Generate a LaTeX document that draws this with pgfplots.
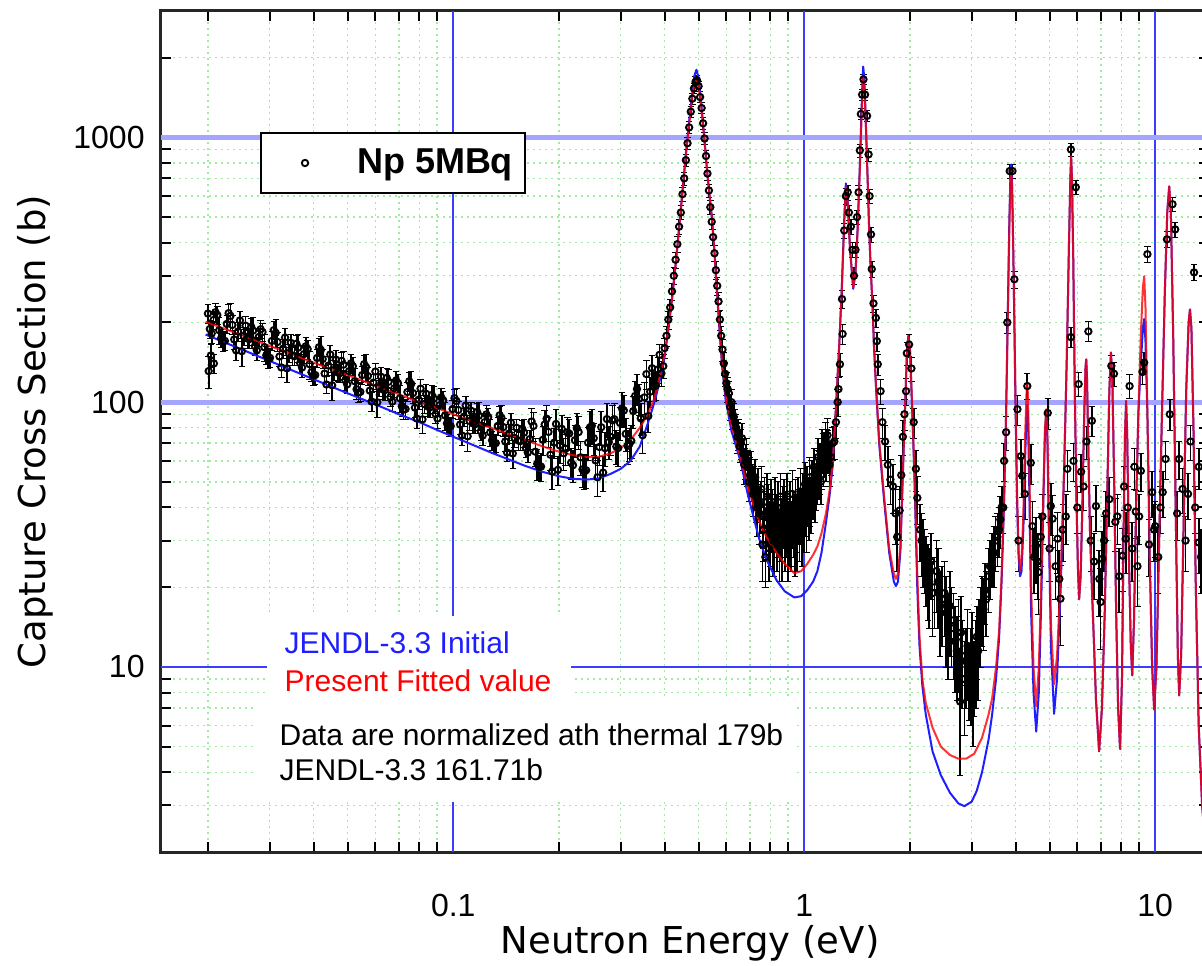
\documentclass[border=0pt]{standalone}
\usepackage{fontspec}
\setmainfont{Liberation Sans}
\newfontfamily\dejavu{DejaVu Sans}
\usepackage{pgfplots}
\pgfplotsset{compat=1.18}
\usepackage{pgfplotstable}
\definecolor{gridgreen}{RGB}{160,235,160}
\definecolor{gridblue}{RGB}{60,60,255}
\definecolor{gridlblue}{RGB}{165,165,255}
\definecolor{curveblue}{RGB}{30,30,255}
\definecolor{curvered}{RGB}{255,0,0}
\newcommand\tickfont{\fontsize{16}{16}\selectfont}

\pgfplotstableread{
x y e
0.02000 216 17
0.02050 181.7 15
0.02101 218.5 17
0.02154 186.9 22
0.02208 169.5 14
0.02263 197.4 16
0.02319 211.7 25
0.02377 172.4 14
0.02437 184.8 15
0.02498 155.7 19
0.02560 194.5 16
0.02624 172.9 14
0.02690 186.3 22
0.02757 156.8 13
0.02826 188.5 15
0.02897 161.2 19
0.02969 146.1 12
0.03043 170.3 14
0.03120 182.6 22
0.03198 148.7 12
0.03277 159.3 13
0.03359 134.2 16
0.03443 167.6 13
0.03529 149.1 12
0.03618 160.6 19
0.03708 135.1 11
0.03801 162.5 13
0.03896 139.0 17
0.03993 126.0 10
0.04093 146.8 12
0.04195 157.4 19
0.04300 128.2 10
0.04408 137.4 11
0.04518 115.8 14
0.04631 144.7 12
0.04747 128.5 10
0.04865 138.5 17
0.04987 116.6 9
0.05112 140.1 11
0.05239 119.9 14
0.05370 108.7 9
0.05505 126.6 10
0.05642 135.8 16
0.05783 110.5 9
0.05928 118.5 9
0.06076 99.9 12
0.06228 124.7 10
0.06384 110.9 9
0.06543 119.4 14
0.06707 100.5 8
0.06875 120.8 10
0.07046 103.4 12
0.07222 93.7 8
0.07403 109.2 9
0.07588 117.1 14
0.07778 95.3 8
0.07972 102.2 8
0.08172 86.1 10
0.08376 107.5 9
0.08586 95.5 8
0.08800 103.0 12
0.09020 86.7 7
0.09246 104.2 8
0.09477 89.1 11
0.09714 80.8 6.5
0.09957 94.2 7.5
0.1021 101.0 12
0.1046 82.3 6.6
0.1072 88.1 7
0.1099 74.3 9
0.1126 92.7 7.4
0.1155 82.5 6.6
0.1183 88.9 11
0.1213 74.8 6
0.1243 89.9 7
0.1274 76.9 9
0.1306 69.7 5.6
0.1339 81.3 6.5
0.1372 87.1 10
0.1407 71.0 5.7
0.1442 76.1 6
0.1478 64.0 7.7
0.1515 80.0 6.4
0.1553 71.2 5.7
0.1591 76.7 9
0.1631 64.5 5.2
0.1672 84.5 10
0.1714 65.0 8
0.1757 56.8 6
0.1800 72.1 9
0.1845 86.6 11
0.1892 63.3 8
0.1939 70.3 9
0.1987 55.5 7
0.2037 79.3 10
0.2088 66.7 9
0.2140 76.1 10
0.2194 57.8 8
0.2248 79.8 11
0.2305 61.9 9
0.2362 54.7 8
0.2421 70.3 10
0.2482 81.5 12
0.2544 60.2 9
0.2608 67.7 10
0.2673 54.2 8
0.2740 86.3 13
0.2808 73.9 11
0.2878 86.2 13
0.2950 67.1 10
0.3024 94.7 14
0.3100 75.9 11
0.3177 69.6 10
0.3257 92.5 13
0.3338 112.1 15
0.3422 86.8 12
0.3507 104.2 14
0.3595 88.6 12
0.3685 134.3 16
0.3777 115.5 14
0.3871 150.9 15
0.3968 136.8 14
0.0201 131 18
0.0204 150 15
0.0208 140 12
0.02025 188.9 15
0.02127 213.3 17
0.02235 170.3 14
0.02348 195.7 16
0.02467 203.5 16
0.02592 173.9 14
0.02723 162.8 13
0.02861 184.0 15
0.03006 146.9 12
0.03159 168.8 14
0.03318 175.4 14
0.03486 150.0 12
0.03663 140.4 11
0.03848 158.6 13
0.04043 126.6 10
0.04247 145.5 12
0.04463 151.3 12
0.04688 129.4 10
0.04925 121.0 10
0.05175 136.7 11
0.05437 109.3 9
0.05712 125.5 10
0.06001 130.5 10
0.06305 111.6 9
0.06624 104.4 8
0.06960 117.9 9
0.07312 94.2 8
0.07682 108.2 9
0.08071 112.5 9
0.08480 96.1 8
0.08909 90.1 7
0.09361 101.6 8
0.09834 81.2 6.5
0.1034 93.4 7.5
0.1085 97.1 8
0.1140 83.0 6.6
0.1198 77.7 6.2
0.1258 87.8 7
0.1322 70.0 5.6
0.1389 80.5 6.4
0.1460 83.7 6.7
0.1534 71.6 5.7
0.1611 67.1 5.4
0.1693 81.3 10
0.1779 57.1 7
0.1868 77.2 10
0.1963 82.7 11
0.2062 64.1 9
0.2167 59.1 8
0.2276 77.1 11
0.2391 55.3 8
0.2513 73.1 10
0.2640 80.4 12
0.2774 70.7 10
0.2914 68.0 10
0.3062 93.0 13
0.3216 71.4 10
0.3379 103.0 14
0.3551 127.6 16
0.3731 114.8 14
0.3919 128.5 14
0.02075 204.2 16
0.02181 174.3 14
0.02291 216.8 17
0.02407 156.8 13
0.02529 177.9 14
0.02657 192.6 15
0.02791 176.2 14
0.02933 150.3 12
0.03081 187.0 15
0.03238 135.2 11
0.03401 153.4 12
0.03573 166.2 13
0.03754 151.8 12
0.03944 129.6 10
0.04144 161.2 13
0.04353 116.6 9
0.04574 132.3 11
0.04806 143.2 11
0.05049 130.9 10
0.05304 111.8 9
0.05573 139.1 11
0.05855 100.5 8
0.06151 114.1 9
0.06463 123.5 10
0.06790 112.8 9
0.07133 96.4 8
0.07495 119.9 10
0.07874 86.7 7
0.08273 98.4 8
0.08692 106.4 9
0.09132 97.3 8
0.09594 83.1 6.6
0.1008 103.5 8
0.1059 74.8 6
0.1113 84.9 7
0.1169 91.9 7
0.1228 84.0 7
0.1290 71.7 6
0.1356 89.2 7
0.1424 64.5 5
0.1496 73.2 6
0.1572 79.4 6
0.1651 72.5 6
0.1735 58.5 8
0.1822 82.3 11
0.1915 54.7 8
0.2012 68.6 10
0.2114 76.9 11
0.2221 71.8 10
0.2334 55.7 8
0.2451 80.2 12
0.2576 52.0 8
0.2706 67.0 10
0.2843 85.3 12
0.2987 83.4 12
0.3138 68.4 10
0.3297 105.5 14
0.3464 75.0 11
0.3640 109.5 14
0.3824 132.8 15
}\dataA

\pgfplotstableread{
x y e
0.400 160 14
0.405 178 15
0.410 205 16
0.415 228 17
0.420 262 20
0.425 300 22
0.430 345 24
0.435 395 26
0.440 460 30
0.445 520 32
0.450 610 36
0.455 700 40
0.460 820 45
0.465 950 50
0.470 1090 55
0.475 1250 60
0.480 1400 65
0.485 1530 70
0.490 1620 72
0.495 1640 72
0.500 1560 70
0.505 1420 65
0.510 1290 60
0.515 1130 55
0.520 990 50
0.525 850 45
0.530 730 40
0.535 630 36
0.540 545 32
0.545 480 30
0.550 420 28
0.555 365 26
0.560 315 24
0.565 275 22
0.570 240 20
0.575 205 18
0.580 178 16
0.585 158 15
0.590 140 14
0.595 128 13
0.600 118 12
0.610 108 12
0.620 100 12
0.630 88 11
0.640 80 10
0.650 76 10
0.660 70 9
0.670 64 9
0.680 60 9
0.690 57 9
0.700 53 9
0.710 50 8
0.720 48 9
0.730 44 9
0.740 46 10
0.750 41 9
0.760 29 8
0.765 37 9
0.770 42 10
0.775 26 6
0.780 35 9
0.790 39 10
0.795 28 7
0.800 33 9
0.810 37 10
0.820 31 9
0.830 36 9
0.840 40 10
0.850 30 9
0.860 34 9
0.870 38 10
0.880 31 8
0.890 35 9
0.900 29 8
0.910 40 10
0.920 33 9
0.930 37 9
0.940 30 8
0.950 36 9
0.960 42 10
0.970 34 9
0.980 38 9
0.990 44 10
1.000 36 9
1.010 40 9
1.020 47 10
1.030 39 9
1.040 43 9
1.050 50 10
1.060 45 9
1.070 52 10
1.080 48 9
1.090 56 10
1.100 52 9
1.110 60 10
1.120 57 10
1.130 65 11
1.140 62 10
1.150 72 12
1.160 68 11
1.170 66 12
1.180 58 10
1.190 62 9
0.605 112 12
0.615 96 11
0.625 90 11
0.635 84 10
0.645 74 10
0.655 68 9
0.665 73 10
0.675 58 9
0.685 64 9
0.695 50 8
0.705 56 9
0.715 45 8
0.725 52 9
0.735 40 9
0.745 38 9
0.755 47 10
0.765 33 8
0.785 44 10
0.805 41 10
0.815 30 8
0.825 42 10
0.835 32 9
0.845 35 9
0.855 44 10
0.865 29 8
0.875 41 10
0.885 37 9
0.895 44 10
0.905 33 9
0.915 31 8
0.925 45 10
0.935 35 9
0.945 41 10
0.955 32 9
0.965 38 9
0.975 46 10
0.985 33 9
0.995 40 9
1.005 49 10
1.015 36 9
1.025 43 9
1.035 52 10
1.045 41 9
1.055 47 9
1.065 57 10
1.075 44 9
1.085 51 10
1.095 62 11
1.105 55 10
1.115 50 9
1.125 68 11
1.135 58 10
1.145 66 11
1.155 60 10
1.165 75 12
1.205 70 10
1.218 71 10
1.231 84 11
1.245 100 12
1.252 112 12
1.264 139 14
1.281 245 20
1.286 181 16
1.300 445 30
1.314 600 40
1.330 620 40
1.340 520 35
1.358 460 30
1.372 376 25
1.386 300 22
1.400 376 25
1.414 500 30
1.428 620 38
1.440 893 50
1.450 1225 60
1.462 1450 70
1.475 1655 75
1.490 1450 70
1.510 1205 60
1.525 862 50
1.535 600 38
1.550 430 28
1.557 318 22
1.575 236 18
1.600 208 16
1.610 170 14
1.620 139 13
1.650 110 12
1.670 84 11
1.700 71 11
1.730 58 10
1.760 51 10
1.790 48 10
1.820 38 9
1.840 31 8
1.870 39 9
1.890 53 10
1.910 74 11
1.930 90 12
1.950 110 13
1.960 153 15
1.990 165 16
2.020 134 14
2.050 84 11
2.080 56 10
2.100 43.5 9
2.140 33 8
2.160 30 8
2.180 28 8
2.200 26 7
2.220 24 7
2.250 22 7
2.270 21 7
2.300 25 7
2.320 19 6
2.350 20 6
2.380 23 7
2.410 21 7
2.440 17 6
2.470 18 6
2.510 19 6
2.540 16 6
2.570 14 5
2.600 17 6
2.630 15 5
2.660 14 5
2.690 12.5 4.5
2.720 11.5 4
2.750 13 5
2.780 7.4 3.5
2.800 13.5 5
2.820 11 4
2.860 9 3.5
2.890 10.5 3.5
2.920 12 4.5
2.950 9.3 3
2.980 10 4
3.000 12 4
3.020 8.5 3.5
3.050 9.5 3
3.080 11 4
3.100 13 4
3.130 11.5 4
3.150 14 4
3.180 15 5
3.210 17 5
3.240 16.5 5
3.270 19.5 5
3.300 18 5
3.350 22 6
3.380 24 6
3.430 26 6
3.470 27 7
3.510 30 7
3.550 31 7
3.590 33 7
3.620 36 8
3.650 40 8
3.690 40 8
3.710 60 10
3.760 77 11
3.790 200 18
3.850 746 45
3.920 746 45
3.970 291 22
4.050 94 12
4.080 30 7
4.140 62.5 10
4.180 52.7 9
4.250 45 9
4.320 115 13
4.420 59 10
4.470 34 8
4.520 26 7
4.570 28.7 8
4.620 25 7
4.650 22.8 7
4.720 31 7
4.770 37 8
4.940 91 12
5.000 28 7
5.040 40.5 9
5.100 36.3 8
5.200 24 6
5.270 30.5 8
5.330 21.5 6
5.370 18.1 6
5.450 33 8
5.560 37 8
5.620 56 10
5.750 900 50
5.750 176 15
5.850 60 10
5.940 648 40
6.000 40 8
6.050 117 12
6.150 54.6 9
6.250 48 9
6.370 71 10
6.450 185 16
6.550 30 7
6.600 85 11
6.700 25 7
6.780 40.5 8
6.930 21.5 6
6.990 17.6 6
7.060 25.6 7
7.150 30 7
7.250 38 8
7.400 43 9
7.500 137 13
7.630 128 13
7.700 35.3 8
7.800 37 8
7.900 22 6
8.070 26.3 7
8.150 48 9
8.240 30.5 8
8.350 40 8
8.450 115 12
8.600 28 7
8.720 57 10
8.800 38.6 8
8.900 24 7
9.000 37 8
9.100 55 9
9.200 130 13
9.300 141 13
9.500 362 25
9.600 29 7
9.800 45.7 9
9.930 33 8
10.00 34 8
10.20 26 7
10.35 40 8
10.50 45.7 9
10.70 61 10
10.80 412 28
11.00 90 12
11.20 559 35
11.40 449 30
11.55 38 8
11.70 61 10
11.96 47 9
12.20 30 7
12.40 45 9
12.60 71 11
12.90 309 22
13.00 40 8
13.30 57 10
13.30 29.5 7
13.50 26 7
}\dataB

\begin{document}
\begin{tikzpicture}
\begin{axis}[
  scale only axis, width=524pt, height=420.5pt,
  xmode=log, ymode=log,
  xmin=0.0147, xmax=14.23, ymin=2, ymax=3000,
  axis line style={line width=1.5pt, black!85},
  tick align=inside,
  major tick length=9pt, minor tick length=5pt,
  tick style={black, line width=1pt},
  xtick={0.1,1,10}, xticklabels={0.1,1,10},
  minor xtick={0.02,0.03,0.04,0.05,0.06,0.07,0.08,0.09,0.2,0.3,0.4,0.5,0.6,0.7,0.8,0.9,2,3,4,5,6,7,8,9},
  ytick={10,100,1000}, yticklabels={10,100,1000},
  minor ytick={3,4,5,6,7,8,9,20,30,40,50,60,70,80,90,200,300,400,500,600,700,800,900,2000},
  xminorgrids, yminorgrids,
  minor grid style={gridgreen, line width=0.7pt, dash pattern=on 1pt off 2pt},
  xticklabel style={font=\tickfont, anchor=center, yshift=-26.5pt},
  yticklabel style={font=\tickfont, anchor=east, inner sep=0pt, xshift=-8pt},
  every axis x label/.style={at={(rel axis cs:0.5048,0)}, yshift=-50.5pt, anchor=base},
  every axis y label/.style={at={(rel axis cs:0,0.5)}, xshift=-63pt, rotate=90, anchor=center},
  label style={font=\dejavu\fontsize{18.5}{22}\selectfont},
  xlabel={Neutron Energy (eV)}, ylabel={Capture Cross Section (b)},
  legend style={at={(axis cs:0.02819,1044.5)}, anchor=north west, draw=black, line width=0.8pt,
    fill=white, inner xsep=4pt, inner ysep=6pt, font=\fontsize{18}{20}\selectfont\bfseries,
    /tikz/every odd column/.append style={column sep=20pt}},
  legend image code/.code={\path[draw=none] (-18pt,0pt) -- (4pt,0pt); \draw[#1] plot coordinates {(0pt,0pt)};},
  after end axis/.code={
    \fill[white] (axis cs:0.02952,7.57) rectangle (axis cs:0.2169,15.57);
    \fill[white] (axis cs:0.0271,3.093) rectangle (axis cs:0.9489,7.57);
    \node[anchor=base west, inner sep=0pt, text=curveblue, font=\fontsize{15}{18}\selectfont] at (axis cs:0.0330,11.19) {JENDL-3.3 Initial};
    \node[anchor=base west, inner sep=0pt, text=curvered, font=\fontsize{15}{18}\selectfont] at (axis cs:0.0330,8.11) {Present Fitted value};
    \node[anchor=base west, inner sep=0pt, font=\fontsize{15}{18}\selectfont] at (axis cs:0.03193,5.035) {Data are normalized ath thermal 179b};
    \node[anchor=base west, inner sep=0pt, font=\fontsize{15}{18}\selectfont] at (axis cs:0.03193,3.716) {JENDL-3.3 161.71b};
  },
]
\coordinate (SW) at (rel axis cs:0,0);
% major grid lines (the 0.1 line is interrupted behind the annotation box)
\draw[gridblue, line width=0.8pt] (axis cs:0.1,2) -- (axis cs:0.1,3.093);
\draw[gridblue, line width=0.8pt] (axis cs:0.1,15.57) -- (axis cs:0.1,3000);
\draw[gridblue, line width=0.8pt] (axis cs:1,2) -- (axis cs:1,3000);
\draw[gridblue, line width=0.8pt] (axis cs:10,2) -- (axis cs:10,3000);
\draw[gridblue, line width=0.7pt] (axis cs:0.0147,10) -- (axis cs:14.23,10);
\draw[gridlblue, line width=2.5pt] (axis cs:0.0147,100) -- (axis cs:14.23,100);
\draw[gridlblue, line width=2.5pt] (axis cs:0.0147,1000) -- (axis cs:14.23,1000);

\addplot[black, only marks, mark=o, mark size=1.6pt, mark options={line width=0.95pt},
  error bars/.cd, y dir=both, y explicit, error bar style={line width=0.85pt, black}]
  table[x=x, y=y, y error=e] {\dataA};
\addlegendentry{Np 5MBq}
\addplot[forget plot, black, only marks, mark=o, mark size=1.6pt, mark options={line width=0.95pt},
  error bars/.cd, y dir=both, y explicit, error bar style={line width=0.85pt, black}]
  table[x=x, y=y, y error=e] {\dataB};

\addplot[curveblue, line width=1pt, line join=round, no marks, forget plot] coordinates {
(0.0197,180) (0.025,158) (0.03,143) (0.04,122) (0.05,108) (0.06,98) (0.07,90) (0.08,84) (0.09,78.5)
(0.1,74) (0.115,68.5) (0.13,64) (0.145,60.5) (0.16,57.5) (0.18,54.5) (0.2,52.5) (0.22,51.3) (0.24,51)
(0.26,51.5) (0.28,53.5) (0.3,56) (0.32,60) (0.34,68) (0.355,80) (0.37,95) (0.38,108) (0.39,125)
(0.4,148) (0.41,188) (0.42,245) (0.43,330) (0.44,455) (0.45,630) (0.46,870) (0.47,1150) (0.48,1480)
(0.487,1720) (0.493,1800) (0.5,1680) (0.508,1380) (0.515,1120) (0.52,970) (0.53,720) (0.54,565)
(0.546,490) (0.555,365) (0.564,262) (0.573,190) (0.583,138) (0.596,104) (0.62,78) (0.658,60)
(0.69,45) (0.72,36) (0.744,30.5) (0.78,25.5) (0.833,21.3) (0.88,19.3) (0.937,18.3) (0.98,18.5)
(1.02,19.5) (1.06,21) (1.09,23) (1.12,27) (1.153,35) (1.18,44) (1.204,57) (1.231,95) (1.258,164)
(1.28,275) (1.3,490) (1.314,670) (1.33,570) (1.35,380) (1.379,268) (1.4,310) (1.42,460) (1.44,780)
(1.455,1220) (1.465,1620) (1.472,1850) (1.48,1720) (1.49,1420) (1.5,1080) (1.515,710) (1.53,460)
(1.545,330) (1.566,226) (1.58,163) (1.6,116) (1.636,69) (1.69,42) (1.746,27) (1.8,21) (1.825,20.2)
(1.85,21) (1.88,27.5) (1.907,50) (1.94,100) (1.96,150) (1.98,178) (2.0,160) (2.02,113) (2.04,78)
(2.06,52) (2.08,32) (2.1,19.5) (2.13,12) (2.17,8.5) (2.22,6.6) (2.32,4.8) (2.45,3.9) (2.6,3.35)
(2.75,3.05) (2.86,2.98) (3.0,3.1) (3.1,3.4) (3.21,4.0) (3.35,5.3) (3.43,6.6) (3.52,9) (3.59,12.8)
(3.65,21) (3.71,42) (3.76,92) (3.8,210) (3.84,480) (3.87,740) (3.89,791) (3.91,660) (3.94,380)
(3.97,195) (4.0,95) (4.04,42) (4.08,26) (4.12,22) (4.16,23) (4.21,33) (4.26,62) (4.3,90) (4.32,98)
(4.34,88) (4.38,45) (4.43,16) (4.5,8) (4.58,5.7) (4.66,8) (4.74,19) (4.8,42) (4.85,76) (4.89,92)
(4.93,72) (4.98,30) (5.05,11.5) (5.15,6.65) (5.25,9) (5.38,20) (5.5,55) (5.6,150) (5.68,400)
(5.73,700) (5.76,848) (5.79,700) (5.84,350) (5.9,110) (5.96,45) (6.02,24) (6.07,18) (6.13,22)
(6.2,40) (6.27,85) (6.33,135) (6.36,145) (6.39,125) (6.45,65) (6.52,32) (6.6,20) (6.68,13) (6.78,7.5)
(6.92,4.8) (7.05,7) (7.18,16) (7.3,45) (7.4,110) (7.48,154) (7.55,120) (7.64,50) (7.74,16) (7.84,7)
(7.94,4.9) (8.04,9) (8.12,30) (8.2,75) (8.26,101) (8.32,75) (8.42,25) (8.52,12) (8.6,9.3) (8.7,15)
(8.82,40) (8.95,90) (9.1,140) (9.22,190) (9.3,206) (9.38,170) (9.5,90) (9.65,25) (9.8,10) (9.93,6.9)
(10.08,10) (10.25,28) (10.45,90) (10.65,260) (10.82,520) (10.96,653) (11.08,520) (11.25,180)
(11.45,35) (11.6,11) (11.7,7.8) (11.85,11) (12.05,35) (12.25,110) (12.45,200) (12.56,224)
(12.68,190) (12.85,80) (13.05,20) (13.3,6) (13.6,3) (13.9,2.1)
};
\addplot[curvered, line width=1pt, line join=round, no marks, opacity=0.8, forget plot] coordinates {
(0.0197,201) (0.025,179) (0.03,163) (0.04,141) (0.05,126.5) (0.06,115.5) (0.07,107) (0.08,100) (0.09,95)
(0.1,90) (0.115,84) (0.13,79.5) (0.145,75.5) (0.16,72) (0.18,68) (0.2,65) (0.22,63) (0.24,62)
(0.26,62.2) (0.28,64) (0.3,67) (0.32,72) (0.34,80) (0.355,88) (0.37,99) (0.38,112) (0.39,130)
(0.4,152) (0.41,190) (0.42,245) (0.43,330) (0.44,450) (0.45,620) (0.46,850) (0.47,1120) (0.48,1420)
(0.487,1600) (0.493,1650) (0.5,1560) (0.508,1320) (0.515,1100) (0.52,960) (0.53,720) (0.54,570)
(0.546,496) (0.555,370) (0.564,267) (0.573,195) (0.583,142) (0.596,108) (0.62,82) (0.658,62)
(0.69,48) (0.72,40) (0.744,35.5) (0.78,31) (0.833,27) (0.88,24.5) (0.937,22.6) (0.98,23)
(1.02,24.5) (1.06,26.5) (1.09,28.5) (1.12,32) (1.153,38) (1.18,46) (1.204,58) (1.231,95) (1.258,164)
(1.28,270) (1.3,480) (1.314,650) (1.33,560) (1.35,380) (1.379,270) (1.4,310) (1.42,450) (1.44,750)
(1.455,1150) (1.465,1500) (1.472,1680) (1.48,1600) (1.49,1350) (1.5,1050) (1.515,700) (1.53,460)
(1.545,330) (1.566,228) (1.58,165) (1.6,118) (1.636,71) (1.69,43.5) (1.746,28) (1.8,22.5) (1.825,21.5)
(1.85,22.5) (1.88,29) (1.907,51) (1.94,100) (1.96,150) (1.98,178) (2.0,160) (2.02,115) (2.04,80)
(2.06,55) (2.08,35) (2.1,22) (2.13,13) (2.17,9) (2.22,7.3) (2.32,5.9) (2.45,5.0) (2.6,4.65)
(2.75,4.5) (2.89,4.5) (3.05,4.7) (3.21,5.4) (3.35,6.6) (3.43,7.6) (3.52,10) (3.59,13.6)
(3.65,22) (3.71,43) (3.76,90) (3.8,200) (3.84,450) (3.87,700) (3.89,757) (3.91,650) (3.94,380)
(3.97,200) (4.0,100) (4.04,45) (4.08,28) (4.12,23) (4.16,25) (4.21,38) (4.26,75) (4.3,110) (4.32,119)
(4.34,105) (4.38,55) (4.43,20) (4.5,10) (4.58,7.1) (4.66,10) (4.74,22) (4.8,45) (4.85,78) (4.89,94)
(4.93,75) (4.98,35) (5.05,14) (5.15,8.6) (5.25,11) (5.38,22) (5.5,55) (5.6,150) (5.68,400)
(5.73,700) (5.76,848) (5.79,700) (5.84,350) (5.9,110) (5.96,45) (6.02,24) (6.07,18) (6.13,22)
(6.2,40) (6.27,85) (6.33,135) (6.36,145) (6.39,125) (6.45,65) (6.52,32) (6.6,20) (6.68,13) (6.78,7.5)
(6.92,4.8) (7.05,7) (7.18,16) (7.3,45) (7.4,110) (7.48,154) (7.55,120) (7.64,50) (7.74,16) (7.84,7)
(7.94,4.9) (8.04,9) (8.12,30) (8.2,75) (8.26,101) (8.32,75) (8.42,25) (8.52,12) (8.6,9.3) (8.7,15)
(8.82,40) (8.95,90) (9.1,180) (9.22,270) (9.3,299) (9.38,230) (9.5,90) (9.65,25) (9.8,10) (9.93,6.9)
(10.08,10) (10.25,28) (10.45,90) (10.65,260) (10.82,520) (10.96,653) (11.08,520) (11.25,180)
(11.45,35) (11.6,11) (11.7,7.8) (11.85,11) (12.05,35) (12.25,110) (12.45,200) (12.56,224)
(12.68,190) (12.85,80) (13.05,20) (13.3,6) (13.6,3) (13.9,2.1)
};
\end{axis}
\pgfresetboundingbox
\path ([shift={(-80.5pt,-56.5pt)}]SW) rectangle ([shift={(520.5pt,426pt)}]SW);
\end{tikzpicture}
\end{document}
